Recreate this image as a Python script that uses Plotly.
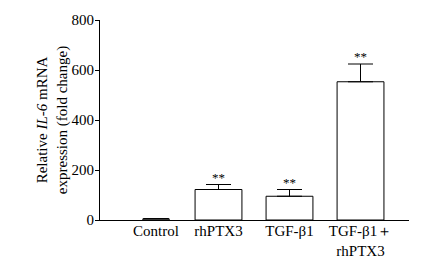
import plotly.graph_objects as go

cat_labels = ["Control", "rhPTX3", "TGF-β1", "TGF-β1＋<br>rhPTX3"]
values = [5, 122, 95, 553]
errors = [0, 20, 27, 71]
sig = ["", "**", "**", "**"]
y_ticks = [0, 200, 400, 600, 800]

# layout helpers (axis positions / bar widths of the groups)
x_pos = [0.12, 1, 2, 3]
bar_w = [0.37, 0.66, 0.66, 0.66]

FONT = "Liberation Serif, Times New Roman, serif"

fig = go.Figure()
fig.add_trace(go.Bar(
    x=x_pos, y=values, width=bar_w,
    marker=dict(color="white", line=dict(color="black", width=1)),
    error_y=dict(type="data", array=errors, arrayminus=[0]*4, symmetric=False,
                 color="black", thickness=1, width=12.5),
))

for xp, v, e, s in zip(x_pos, values, errors, sig):
    if s:
        fig.add_annotation(x=xp, y=v + e, text=s, showarrow=False,
                           yanchor="bottom", yshift=-2,
                           font=dict(family=FONT, size=13, color="#000000"))

fig.update_layout(
    width=418, height=250,
    margin=dict(l=92, r=17, t=12, b=38, autoexpand=False),
    paper_bgcolor="white", plot_bgcolor="white",
    showlegend=False,
    font=dict(family=FONT, size=15, color="black"),
)
fig.update_xaxes(
    range=[-0.669, 3.683], tickvals=x_pos, ticktext=cat_labels,
    showline=True, linecolor="black", linewidth=1,
    ticks="", showgrid=False, zeroline=False, tickfont=dict(size=15),
    automargin=False, ticklabelstandoff=-3,
)
fig.update_yaxes(
    range=[0, 800], tickvals=y_ticks, showline=True, linecolor="black", linewidth=1,
    ticks="outside", ticklen=4, tickwidth=1, tickcolor="black",
    showgrid=False, zeroline=False, tickfont=dict(size=15), automargin=False,
    ticklabelstandoff=-2,
    title=dict(text="Relative <i>IL-6</i> mRNA<br>expression (fold change)",
               font=dict(size=15), standoff=0),
)

fig.write_html("out.html")
